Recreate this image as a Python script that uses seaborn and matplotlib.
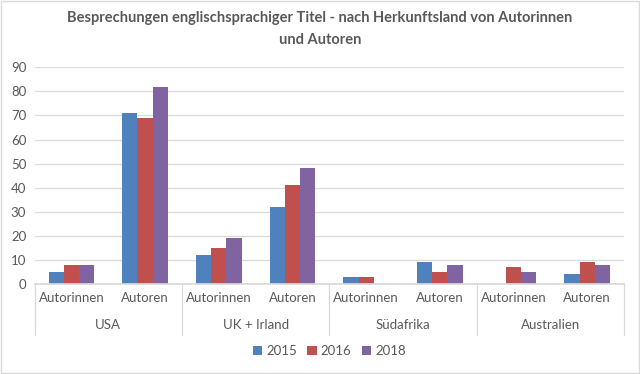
import numpy as np
import pandas as pd
import matplotlib
matplotlib.use('Agg')
import matplotlib.pyplot as plt
import seaborn as sns

# ----------------- data -----------------
countries = ['USA', 'UK + Irland', 'Südafrika', 'Australien']
genders = ['Autorinnen', 'Autoren']
years = ['2015', '2016', '2018']
v2015 = [5, 71, 12, 32, 3, 9, 0, 4]
v2016 = [8, 69, 15, 41, 3, 5, 7, 9]
v2018 = [8, 82, 19, 48, 0, 8, 5, 8]
colors = ['#4F81BD', '#C0504D', '#8064A2']

# long dataframe for seaborn
cats = [f'{c}|{g}' for c in countries for g in genders]
rows = []
for year, vals in zip(years, [v2015, v2016, v2018]):
    for cat, v in zip(cats, vals):
        rows.append({'cat': cat, 'year': year, 'value': v})
df = pd.DataFrame(rows)

# ----------------- plot -----------------
sns.set_theme(style='white')
plt.rcParams['font.family'] = ['Lato', 'DejaVu Sans']
text_col = '#595959'

fig = plt.figure(figsize=(6.4, 3.74), dpi=100)
ax = fig.add_axes([0.054, 0.241, 0.921, 0.579])

sns.barplot(data=df, x='cat', y='value', hue='year', order=cats,
            palette=colors, width=0.62, gap=0, ax=ax, legend=True,
            saturation=1, edgecolor='none')

ax.set_ylim(0, 90)
ax.set_xlim(-0.5, len(cats) - 0.5)
ax.set_yticks(np.arange(0, 91, 10))
ax.yaxis.grid(True, color='#D9D9D9', linewidth=0.9)
ax.set_axisbelow(True)
for s in ['top', 'right', 'left']:
    ax.spines[s].set_visible(False)
ax.spines['bottom'].set_color('#D9D9D9')
ax.set_xlabel('')
ax.set_ylabel('')
ax.tick_params(axis='both', length=0, labelsize=9.5, colors=text_col, pad=6)
ax.set_xticks(range(len(cats)))
ax.set_xticklabels([g for c in countries for g in genders])

# country labels and separators
trans = ax.get_xaxis_transform()
for i, c in enumerate(countries):
    ax.text(2 * i + 0.5, -0.19, c, transform=trans, ha='center', va='center',
            fontsize=9.5, color=text_col)
for x in np.arange(-0.5, len(cats), 2):
    ax.plot([x, x], [0, -0.235], transform=trans, color='#D9D9D9',
            linewidth=0.9, clip_on=False)

ax.legend(loc='center', bbox_to_anchor=(0.5, -0.31), ncol=3, frameon=False,
          fontsize=9.5, handlelength=0.7, handleheight=0.7, handletextpad=0.3,
          columnspacing=0.8, labelcolor=text_col)

fig.suptitle('Besprechungen englischsprachiger Titel - nach Herkunftsland von Autorinnen\nund Autoren',
             x=0.5, y=0.97, fontsize=10.5, fontweight='bold', color=text_col,
             linespacing=1.75)

# chart border
fig.patches.append(plt.Rectangle((0.002, 0.003), 0.996, 0.994, transform=fig.transFigure,
                                 fill=False, edgecolor='#D9D9D9', linewidth=1))

fig.savefig('out.png', dpi=100)
